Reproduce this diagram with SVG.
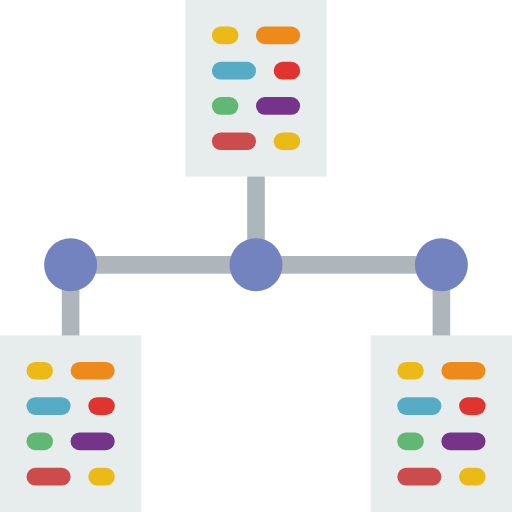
<svg xmlns="http://www.w3.org/2000/svg" width="512" height="512" viewBox="0 0 512 512">
<style>
.card{fill:#e7eced}.line{fill:#afb6bb}.hub{fill:#7383bf}
.y{fill:#ecba16}.o{fill:#ed8a19}.b{fill:#55acc4}.r{fill:#e03430}.g{fill:#61b872}.p{fill:#75348a}.c{fill:#cc4b4c}
</style>
<defs>
<g id="sheet">
<rect class="card" width="141.2" height="176.6"/>
<rect class="y" x="26.5" y="26.5" width="26.5" height="17.7" rx="8.8"/>
<rect class="o" x="70.6" y="26.5" width="44.1" height="17.7" rx="8.8"/>
<rect class="b" x="26.5" y="61.8" width="44.1" height="17.7" rx="8.8"/>
<rect class="r" x="88.3" y="61.8" width="26.5" height="17.7" rx="8.8"/>
<rect class="g" x="26.5" y="97.1" width="26.5" height="17.7" rx="8.8"/>
<rect class="p" x="70.6" y="97.1" width="44.1" height="17.7" rx="8.8"/>
<rect class="c" x="26.5" y="132.4" width="44.1" height="17.7" rx="8.8"/>
<rect class="y" x="88.3" y="132.4" width="26.5" height="17.7" rx="8.8"/>
</g>
</defs>
<g id="connectors">
<rect class="line" x="247.2" y="176" width="17.6" height="80"/>
<rect class="line" x="70" y="256" width="372" height="17.7"/>
<rect class="line" x="61.8" y="265" width="17.6" height="71"/>
<rect class="line" x="432.6" y="265" width="17.6" height="71"/>
</g>
<g id="node-top"><use href="#sheet" x="185.4" y="0"/></g>
<g id="node-left"><use href="#sheet" x="0" y="335.4"/></g>
<g id="node-right"><use href="#sheet" x="370.8" y="335.4"/></g>
<g id="hub-left"><circle class="hub" cx="70.6" cy="264.8" r="26.5"/></g>
<g id="hub-center"><circle class="hub" cx="256" cy="264.8" r="26.5"/></g>
<g id="hub-right"><circle class="hub" cx="441.4" cy="264.8" r="26.5"/></g>
</svg>
